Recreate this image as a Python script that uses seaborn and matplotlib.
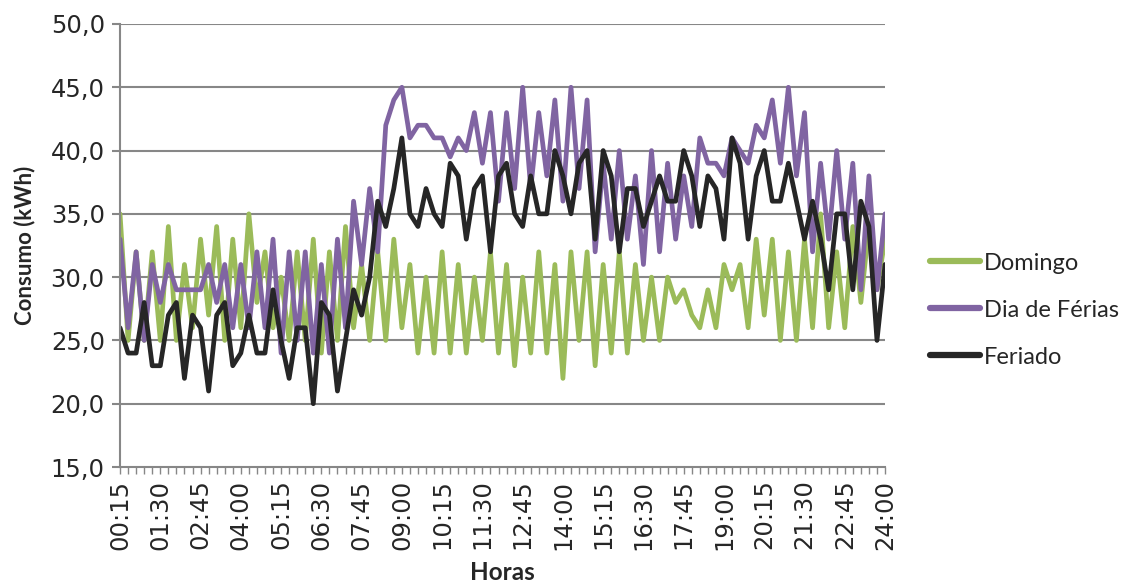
import matplotlib
matplotlib.use("Agg")
import matplotlib.pyplot as plt
from matplotlib.lines import Line2D
import pandas as pd
import seaborn as sns

# 15-minute intervals from 00:15 to 24:00
horas = [f"{(m // 60):02d}:{(m % 60):02d}" for m in range(15, 24 * 60 + 1, 15)]

domingo = [35, 25, 32, 25, 32, 25, 34, 25, 31, 26, 33, 27, 34, 25, 33, 26,
           35, 28, 32, 26, 30, 25, 32, 25, 33, 24, 32, 25, 34, 26, 31, 25,
           32, 25, 33, 26, 31, 24, 30, 24, 32, 24, 31, 24, 30, 25, 32, 24,
           31, 23, 30, 24, 32, 24, 31, 22, 32, 25, 32, 23, 31, 24, 32, 24,
           31, 25, 30, 25, 30, 28, 29, 27, 26, 29, 26, 31, 29, 31, 26, 33,
           27, 33, 25, 32, 25, 33, 26, 35, 26, 32, 26, 34, 28, 34, 29, 33]

dia_ferias = [33, 26, 32, 25, 31, 28, 31, 29, 29, 29, 29, 31, 28, 31, 26, 31,
              26, 32, 26, 33, 24, 32, 25, 32, 24, 31, 24, 33, 26, 36, 31, 37,
              32, 42, 44, 45, 41, 42, 42, 41, 41, 39.5, 41, 40, 43, 39, 43, 36,
              43, 37, 45, 37, 43, 38, 44, 36, 45, 37, 44, 32, 39, 33, 40, 33,
              38, 31, 40, 32, 39, 33, 38, 34, 41, 39, 39, 38, 41, 40, 39, 42,
              41, 44, 39, 45, 38, 43, 32, 39, 33, 40, 33, 39, 29, 38, 29, 35]

feriado = [26, 24, 24, 28, 23, 23, 27, 28, 22, 27, 26, 21, 27, 28, 23, 24,
           27, 24, 24, 29, 25, 22, 26, 26, 20, 28, 27, 21, 25, 29, 27, 30,
           36, 34, 37, 41, 35, 34, 37, 35, 34, 39, 38, 33, 37, 38, 32, 38,
           39, 35, 34, 38, 35, 35, 40, 38, 35, 39, 40, 33, 40, 38, 32, 37,
           37, 34, 36, 38, 36, 36, 40, 38, 34, 38, 37, 33, 41, 39, 33, 38,
           40, 36, 36, 39, 36, 33, 36, 33, 29, 35, 35, 29, 36, 34, 25, 31]

series = ["Domingo", "Dia de Férias", "Feriado"]
cores = ["#9BBB59", "#8064A2", "#262626"]
y_ticks = [15, 20, 25, 30, 35, 40, 45, 50]

n = len(horas)
df = pd.DataFrame({
    "idx": list(range(n)) * 3,
    "Consumo": domingo + dia_ferias + feriado,
    "Serie": [s for s in series for _ in range(n)],
})

sns.set_theme(style="white")
plt.rcParams["font.family"] = ["Lato", "DejaVu Sans"]

fig = plt.figure(figsize=(11.26, 5.85), dpi=100)
ax = fig.add_axes([0.1066, 0.2017, 0.786 - 0.1066, 0.959 - 0.2017])

sns.lineplot(data=df, x="idx", y="Consumo", hue="Serie", hue_order=series,
             palette=dict(zip(series, cores)), linewidth=3.4, sort=False,
             ax=ax, legend=False)

grid_col = "#878787"
tick_font = {"family": ["DejaVu Sans"], "size": 17.5}
ax.set_ylim(15, 50)
ax.set_xlim(0, n - 1)
ax.set_yticks(y_ticks)
ax.set_yticklabels([f"{v:.1f}".replace(".", ",") for v in y_ticks], fontdict=tick_font)
for v in y_ticks[1:]:
    ax.axhline(v, color=grid_col, lw=1.5, zorder=0)

ax.set_xticks(range(0, n, 5))
ax.set_xticklabels([horas[i] for i in range(0, n, 5)], rotation=90, fontdict=tick_font)
ax.set_xticks(range(n), minor=True)
ax.tick_params(axis="x", which="both", direction="out", length=5, color=grid_col,
               width=1, bottom=True, pad=4)
ax.tick_params(axis="y", direction="out", length=6, color=grid_col, width=1.5,
               left=True, pad=5)

for side in ["top", "right"]:
    ax.spines[side].set_visible(False)
for side in ["left", "bottom"]:
    ax.spines[side].set_color(grid_col)
    ax.spines[side].set_linewidth(1.5)

ax.set_xlabel("Horas", fontsize=17.5, fontweight="bold", labelpad=8)
ax.set_ylabel("Consumo (kWh)", fontsize=16, fontweight="bold", labelpad=11)

handles = [Line2D([0], [0], color=c, lw=4.5) for c in cores]
fig.legend(handles, series, loc="center left", bbox_to_anchor=(0.807, 0.47),
           frameon=False, fontsize=17, handlelength=2.1, labelspacing=1.1,
           handletextpad=0.2)

fig.savefig("out.png", dpi=100)
